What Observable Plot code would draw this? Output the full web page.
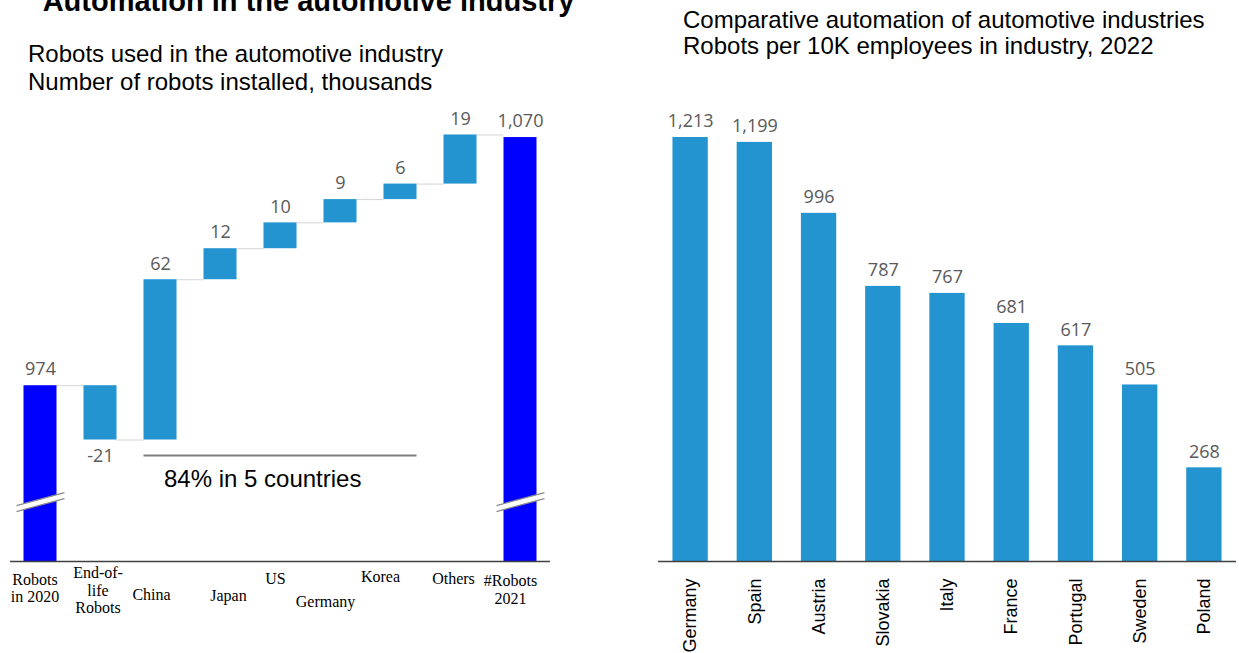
<!DOCTYPE html>
<html>
<head>
<meta charset="utf-8">
<script src="https://cdn.jsdelivr.net/npm/d3@7"></script>
<script src="https://cdn.jsdelivr.net/npm/@observablehq/plot@0.6"></script>
<style>
  body { margin: 0; background: #fff; }
  #root { position: relative; width: 1239px; height: 653px; overflow: hidden; font-family: "Liberation Sans", Arial, sans-serif; }
  .t { position: absolute; white-space: nowrap; color: #000; }
  .chart { position: absolute; top: 100px; }
  .chart svg { overflow: visible; }
</style>
</head>
<body>
<div id="root">
  <div class="t" style="left:308.5px; top:-13.5px; transform:translateX(-50%); font-weight:bold; font-size:29px; line-height:29px;">Automation in the automotive industry</div>
  <div class="t" style="left:28px; top:39.5px; font-size:24px; line-height:28px;">Robots used in the automotive industry<br>Number of robots installed, thousands</div>
  <div class="t" style="left:683px; top:6.5px; font-size:24px; line-height:26px;">Comparative automation of automotive industries<br>Robots per 10K employees in industry, 2022</div>
  <div class="chart" id="left" style="left:0px;"></div>
  <div class="chart" id="right" style="left:640px;"></div>
</div>
<script>
// ---------- Data: waterfall (left) ----------
const wfCategories = ["Robots in 2020", "End-of-life Robots", "China", "Japan", "US", "Germany", "Korea", "Others", "#Robots 2021"];
const wfTickLabels = ["Robots\nin 2020", "End-of-\nlife\nRobots", "China", "Japan", "US", "Germany", "Korea", "Others", "#Robots\n2021"];
const wfValues = [974, -21, 62, 12, 10, 9, 6, 19, 1070];
const wfKinds = ["total", "delta", "delta", "delta", "delta", "delta", "delta", "delta", "total"];
const annotationText = "84% in 5 countries";
const annotationFrom = "China";
const annotationTo = "Korea";

// ---------- Data: comparative (right) ----------
const countries = ["Germany", "Spain", "Austria", "Slovakia", "Italy", "France", "Portugal", "Sweden", "Poland"];
const robotsPer10k = [1213, 1199, 996, 787, 767, 681, 617, 505, 268];

// ---------- Layout / style constants ----------
const lightBlue = "#2394D0";
const darkBlue = "#0000FF";
const valueGray = "#595959";
const yFloor = 906;       // broken-axis floor of the waterfall
const yTop = 1076.6;
const breakAt = 929;      // where the axis-break marks sit
const annotY = 947;       // level of the "84%" bracket line
const hw = 0.275;         // half bar width in index units
// per-label [dx, dy] offsets of the staggered x labels
const labelOffsets = [[-5.5, 26.5], [-2.5, 28.5], [-9, 33], [8, 34], [-5, 16.5], [-15, 40], [-20, 15], [-7, 17], [-10, 28]];

const fmt = d3.formatLocale({decimal: ".", thousands: ",", grouping: [3], currency: ["", ""], minus: "-"}).format(",");

// Build waterfall rows
let run = 0;
const wf = wfCategories.map((cat, i) => {
  let y1, y2;
  if (wfKinds[i] === "total") { y1 = yFloor; y2 = wfValues[i]; run = wfValues[i]; }
  else { y1 = run; y2 = run + wfValues[i]; run = y2; }
  return {i, cat, label: wfTickLabels[i], value: wfValues[i], kind: wfKinds[i], y1, y2, end: y2};
});
const connectors = wf.slice(0, -1).map((d, k) => ({x1: d.i + hw, x2: wf[k + 1].i - hw, y: d.end}));
const totals = wf.filter(d => d.kind === "total");
const deltas = wf.filter(d => d.kind === "delta");
const upLabels = wf.filter(d => d.value >= 0);
const downLabels = wf.filter(d => d.value < 0);
const iFrom = wfCategories.indexOf(annotationFrom);
const iTo = wfCategories.indexOf(annotationTo);

// axis-break symbols
const breakFill = {draw(ctx) { ctx.moveTo(-24, 3.5); ctx.lineTo(24, -9.5); ctx.lineTo(24, -3.5); ctx.lineTo(-24, 9.5); ctx.closePath(); }};
const breakLines = {draw(ctx) { ctx.moveTo(-24, 3.5); ctx.lineTo(24, -9.5); ctx.moveTo(-24, 9.5); ctx.lineTo(24, -3.5); }};

const left = Plot.plot({
  width: 600, height: 553,
  marginLeft: 10, marginRight: 50, marginTop: 20, marginBottom: 92,
  x: {type: "linear", domain: [-0.5, wfCategories.length - 0.5], axis: null},
  y: {domain: [yFloor, yTop], axis: null},
  style: {background: "transparent"},
  marks: [
    Plot.ruleY(connectors, {x1: "x1", x2: "x2", y: "y", stroke: "#d4d4d4", strokeWidth: 1}),
    Plot.rectY(deltas, {x1: d => d.i - hw, x2: d => d.i + hw, y1: "y1", y2: "y2", fill: lightBlue}),
    Plot.rectY(totals, {x1: d => d.i - hw, x2: d => d.i + hw, y1: "y1", y2: "y2", fill: darkBlue}),
    Plot.dot(totals, {x: "i", y: () => breakAt, symbol: breakFill, fill: "white", stroke: "none"}),
    Plot.dot(totals, {x: "i", y: () => breakAt, symbol: breakLines, fill: "none", stroke: "#8c8c8c", strokeWidth: 1.3}),
    Plot.ruleY([yFloor], {stroke: "#404040", strokeWidth: 1.5}),
    Plot.text(upLabels, {x: "i", y: d => Math.max(d.y1, d.y2), text: d => fmt(d.value), dy: -16, fill: valueGray, fontSize: 18, fontFamily: "Open Sans"}),
    Plot.text(downLabels, {x: "i", y: d => Math.min(d.y1, d.y2), text: d => fmt(d.value), dy: 16, fill: valueGray, fontSize: 18, fontFamily: "Open Sans"}),
    Plot.ruleY([annotY], {x1: iFrom - hw, x2: iTo + hw, stroke: "#7f7f7f", strokeWidth: 2}),
    Plot.text([annotationText], {x: iFrom - hw, y: annotY, text: d => d, textAnchor: "start", dx: 20, dy: 24, fontSize: 24, fontFamily: "Liberation Sans", fill: "#000"}),
    ...wf.map((d, k) => Plot.text([d], {x: "i", y: () => yFloor, text: "label", dx: labelOffsets[k][0], dy: labelOffsets[k][1], lineAnchor: "middle", lineHeight: 1.1, fontSize: 16, fontFamily: "Liberation Serif", fill: "#000"}))
  ]
});
document.getElementById("left").append(left);

const rows = countries.map((c, i) => ({country: c, value: robotsPer10k[i]}));
const right = Plot.plot({
  width: 599, height: 553,
  marginLeft: 18, marginRight: 3, marginTop: 20, marginBottom: 92,
  x: {domain: countries, paddingInner: 0.45, paddingOuter: 0.225, round: false, axis: null},
  y: {domain: [0, 1261.6], axis: null},
  style: {background: "transparent"},
  marks: [
    Plot.barY(rows, {x: "country", y: "value", fill: lightBlue}),
    Plot.ruleY([0], {stroke: "#404040", strokeWidth: 1.5}),
    Plot.text(rows, {x: "country", y: "value", text: d => fmt(d.value), dy: -16, fill: valueGray, fontSize: 18, fontFamily: "Open Sans"}),
    Plot.text(rows, {x: "country", y: () => 0, text: "country", rotate: -90, textAnchor: "end", lineAnchor: "middle", dy: 17, fontSize: 18, fontFamily: "Liberation Sans", fill: "#000"})
  ]
});
document.getElementById("right").append(right);
</script>
</body>
</html>
